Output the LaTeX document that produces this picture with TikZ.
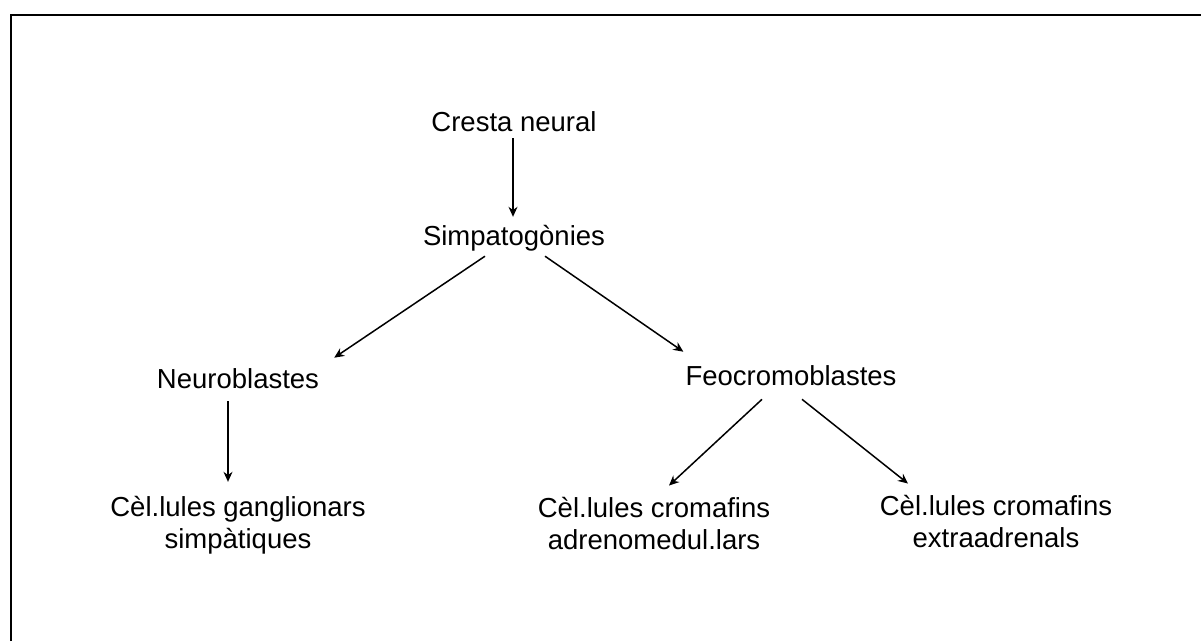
\documentclass[tikz,border=0pt]{standalone}
\usepackage{fontspec}
\setmainfont{Liberation Sans}
\usetikzlibrary{arrows.meta,calc}
\begin{document}
\begin{tikzpicture}[x=1pt,y=-1pt,
  lab/.style={inner sep=0pt,align=center,font=\fontsize{27.5}{32}\selectfont},
  arr/.style={line width=1.5pt,-{Stealth[length=10pt,width=9pt]}},
  frame/.style={line width=2.6pt}]
\useasboundingbox (0,0) rectangle (1201,641);
\draw[frame] (11,641) -- (11,15) -- (1201,15);
\node[lab] (cn) at (514,122) {Cresta neural};
\node[lab] (sp) at (514,238) {Simpatogònies};
\node[lab] (nb) at (238,379) {Neuroblastes};
\node[lab] (fb) at (791,376) {Feocromoblastes};
\node[lab] (cg) at (238,525) {Cèl.lules ganglionars\\simpàtiques};
\node[lab] (ca) at (654,523) {Cèl.lules cromafins\\adrenomedul.lars};
\node[lab] (ce) at (996,521) {Cèl.lules cromafins\\extraadrenals};
\draw[arr] ($(cn.south)+(-1,6)$) -- ($(sp.north)+(-1,-8)$);
\draw[arr] ($(sp.south)+(-29,5)$) -- ($(nb.north east)+(15,-11)$);
\draw[arr] ($(sp.south)+(31,5)$) -- ($(fb.north west)+(-2,-14)$);
\draw[arr] ($(nb.south)+(-10,12)$) -- ($(cg.north)+(-10,-14)$);
\draw[arr] ($(fb.south)+(-29,13)$) -- ($(ca.north)+(15,-11)$);
\draw[arr] ($(fb.south)+(11,13)$) -- ($(ce.north)+(-88,-11)$);
\end{tikzpicture}
\end{document}
